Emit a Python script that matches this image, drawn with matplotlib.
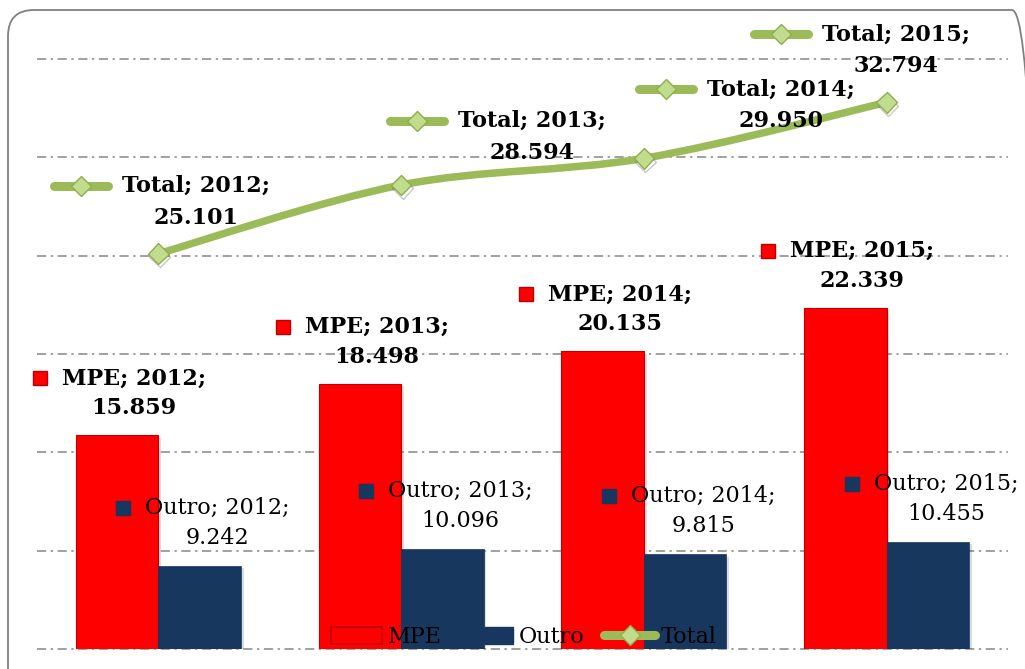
import matplotlib
matplotlib.use("Agg")
import matplotlib.pyplot as plt
import matplotlib.patheffects as pe
import numpy as np
from matplotlib.lines import Line2D
from matplotlib.patches import Patch, PathPatch, FancyBboxPatch
from matplotlib.path import Path
from matplotlib.transforms import IdentityTransform

years = ["2012", "2013", "2014", "2015"]
mpe = [15.859, 18.498, 20.135, 22.339]
outro = [9.242, 10.096, 9.815, 10.455]
total = [25.101, 28.594, 29.950, 32.794]

RED = "#FF0000"
RED_EDGE = "#C00000"
NAVY = "#17375E"
GREEN = "#9BBB59"
DIAMOND = "#C2DC8E"
DIAMOND_EDGE = "#8DAE4C"
GRID = "#868686"

FONT = "DejaVu Serif"
FS = 16

# offsets (pixels) of the Total labels from their points: text centre x, line 1 y
tot_dx = [38, 131, 137, 9]
tot_dy = [68, 64, 69, 68]

fig = plt.figure(figsize=(10.25, 6.69), dpi=100)
W, H = 1025, 669
ax = fig.add_axes([37 / W, 20 / H, (1008 - 37) / W, (649 - 59) / H])
ax.set_xlim(-0.5, 3.5)
ax.set_ylim(5, 35)
ax.set_yticks(np.arange(5, 36, 5))
ax.set_xticks([])
ax.tick_params(length=0, labelleft=False)
for s in ax.spines.values():
    s.set_visible(False)
ax.grid(axis="y", color=GRID, lw=1.1, ls=(0, (6, 3, 1.5, 3)))
ax.set_axisbelow(True)
for gl in ax.get_ygridlines():
    gl.set_clip_on(False)

x = np.arange(len(years))
w = 0.34
shadow = [pe.SimplePatchShadow(offset=(2, -2), alpha=0.15), pe.Normal()]
b1 = ax.bar(x - w / 2, mpe, w, color=RED, edgecolor=RED_EDGE, lw=0.8, label="MPE", zorder=2)
b2 = ax.bar(x + w / 2, outro, w, color=NAVY, edgecolor=NAVY, lw=0.5, label="Outro", zorder=2)
for b in list(b1) + list(b2):
    b.set_path_effects(shadow)

# smoothed total line (Catmull-Rom bezier through the data points)
pts = np.column_stack([x, total]).astype(float)
ext = np.vstack([pts[0], pts, pts[-1]])
verts = [tuple(pts[0])]
codes = [Path.MOVETO]
for i in range(len(pts) - 1):
    p0, p1, p2, p3 = ext[i], ext[i + 1], ext[i + 2], ext[i + 3]
    c1 = p1 + (p2 - p0) / 6
    c2 = p2 - (p3 - p1) / 6
    verts += [tuple(c1), tuple(c2), tuple(p2)]
    codes += [Path.CURVE4] * 3
ax.add_patch(PathPatch(Path(verts, codes), fill=False, edgecolor=GREEN, lw=5.4,
                       capstyle="round", joinstyle="round", zorder=3))
ax.plot(x, total, ls="none", marker="D", ms=10.5, mfc=DIAMOND, mec=DIAMOND_EDGE, mew=1,
        zorder=4, path_effects=[pe.SimpleLineShadow(offset=(1, -2.5), shadow_color="0.4", alpha=0.35),
                                pe.Normal()])

labels = []  # (text artist of first line, key kind)
for i, yr in enumerate(years):
    t1 = ax.annotate(f"MPE; {yr};", xy=(x[i] - w / 2, mpe[i]), xytext=(17, 57),
                     textcoords="offset pixels", ha="center", va="center",
                     fontsize=FS, fontweight="bold", family=FONT, zorder=6)
    ax.annotate(f"{mpe[i]:.3f}", xy=(x[i] - w / 2, mpe[i]), xytext=(17, 27),
                textcoords="offset pixels", ha="center", va="center",
                fontsize=FS, fontweight="bold", family=FONT, zorder=6)
    labels.append((t1, "mpe"))
    t2 = ax.annotate(f"Outro; {yr};", xy=(x[i] + w / 2, outro[i]), xytext=(18, 58),
                     textcoords="offset pixels", ha="center", va="center",
                     fontsize=FS, family=FONT, zorder=6)
    ax.annotate(f"{outro[i]:.3f}", xy=(x[i] + w / 2, outro[i]), xytext=(18, 28),
                textcoords="offset pixels", ha="center", va="center",
                fontsize=FS, family=FONT, zorder=6)
    labels.append((t2, "outro"))
    t3 = ax.annotate(f"Total; {yr};", xy=(x[i], total[i]), xytext=(tot_dx[i], tot_dy[i]),
                     textcoords="offset pixels", ha="center", va="center",
                     fontsize=FS, fontweight="bold", family=FONT, zorder=6)
    ax.annotate(f"{total[i]:.3f}", xy=(x[i], total[i]), xytext=(tot_dx[i], tot_dy[i] - 32),
                textcoords="offset pixels", ha="center", va="center",
                fontsize=FS, fontweight="bold", family=FONT, zorder=6)
    labels.append((t3, "total"))

leg = fig.legend(
    handles=[Patch(facecolor=RED, edgecolor=RED_EDGE, lw=1.2),
             Patch(facecolor=NAVY, edgecolor=NAVY),
             Line2D([], [], color=GREEN, lw=6.5, solid_capstyle="round", marker="D", ms=10,
                    mfc=DIAMOND, mec=DIAMOND_EDGE)],
    labels=["MPE", "Outro", "Total"], loc="center", bbox_to_anchor=(524 / W, 32 / H),
    ncol=3, frameon=False, prop={"family": FONT, "size": FS}, handlelength=2.3,
    handleheight=0.8, handletextpad=0.25, columnspacing=0.9)

# rounded frame around the chart
fig.add_artist(FancyBboxPatch((8, -30), 1030, 30 + H - 10, boxstyle="round,pad=0,rounding_size=26",
                              transform=IdentityTransform(), fill=False, edgecolor="#808080", lw=1.3))

# legend keys next to the data labels
fig.canvas.draw()
r = fig.canvas.get_renderer()
for t, kind in labels:
    bb = t.get_window_extent(r)
    cy = (bb.y0 + bb.y1) / 2
    if kind == "total":
        cx = bb.x0 - 41
        fig.add_artist(Line2D([cx - 27, cx + 27], [cy, cy], color=GREEN, lw=6.5,
                              solid_capstyle="round", transform=IdentityTransform()))
        fig.add_artist(Line2D([cx], [cy], ls="none", marker="D", ms=10, mfc=DIAMOND,
                              mec=DIAMOND_EDGE, transform=IdentityTransform()))
    else:
        cx = bb.x0 - 22
        fc, ec = (RED, RED_EDGE) if kind == "mpe" else (NAVY, NAVY)
        fig.add_artist(Line2D([cx], [cy], ls="none", marker="s", ms=9.5, mfc=fc, mec=ec,
                              mew=1, transform=IdentityTransform()))

fig.savefig("out.png", dpi=100)
